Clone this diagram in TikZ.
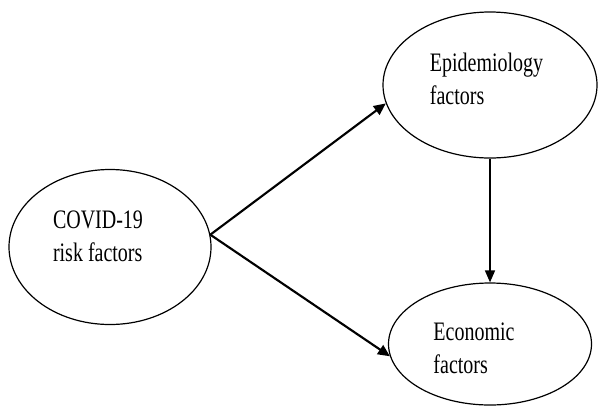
\documentclass[tikz,border=0pt]{standalone}
\usepackage{fontspec}
\setmainfont{Liberation Serif}
\usetikzlibrary{shapes.geometric,arrows.meta}
% text of an oval, moved by (#1,#2) from its centre
\newcommand{\ovaltext}[3]{\raisebox{#2}[0pt][0pt]{\makebox[0pt]{\hspace*{#1}\hspace*{#1}\scalebox{0.75}[1]{\begin{tabular}{@{}l@{}}#3\end{tabular}}}}}
\begin{document}
\begin{tikzpicture}[x=0.75pt,y=-0.75pt,
  factor/.style={shape=ellipse,draw=black,line width=0.9pt,inner sep=0pt,
    font=\fontsize{20pt}{24.75pt}\selectfont},
  link/.style={-{Triangle[length=9pt,width=8pt]},line width=1.6pt}]
  \useasboundingbox (0,0) rectangle (598,415);
  \node[factor,minimum width=151.5pt,minimum height=116.25pt] (risk) at (110,247)
    {\ovaltext{-9pt}{1pt}{COVID-19\\risk factors}};
  \node[factor,minimum width=160.5pt,minimum height=109.5pt] (epi) at (490,85)
    {\ovaltext{-2.6pt}{-2.4pt}{Epidemiology\\factors}};
  \node[factor,minimum width=152.25pt,minimum height=91.5pt] (econ) at (490,344)
    {\ovaltext{-12pt}{-9.9pt}{Economic\\factors}};
  \draw[link] (risk.7) -- (epi.190);
  \draw[link] (risk.7) -- (econ.187);
  \draw[-{Triangle[length=9pt,width=7.5pt]},line width=1.1pt] (epi.south) -- (econ.north);
\end{tikzpicture}
\end{document}
